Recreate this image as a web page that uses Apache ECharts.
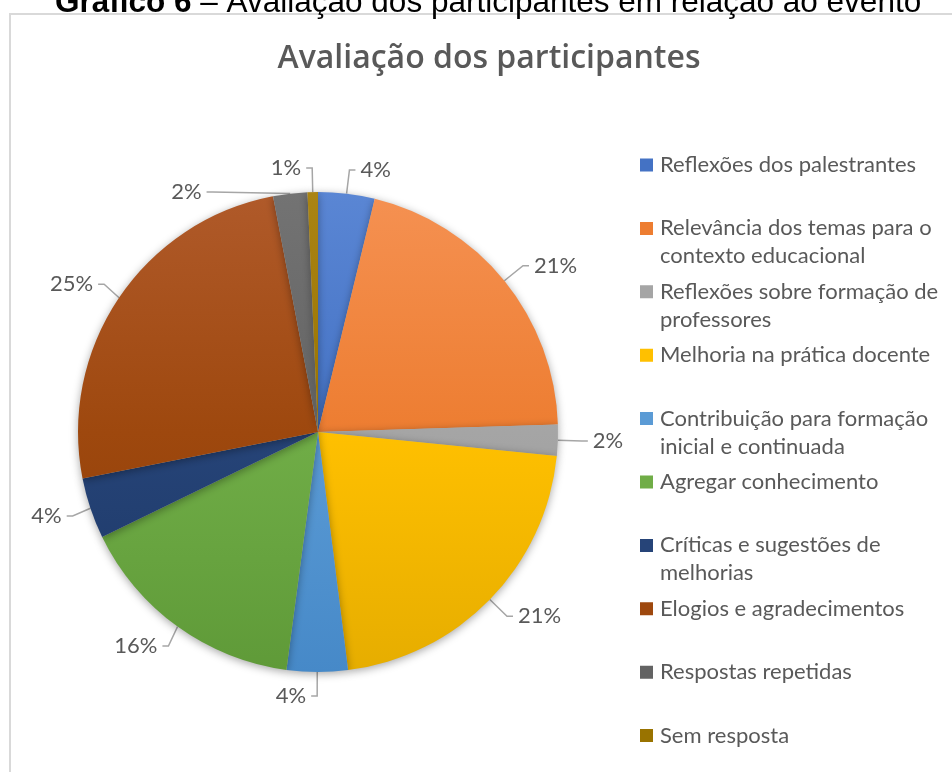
<!DOCTYPE html>
<html>
<head>
<meta charset="utf-8">
<script src="https://cdn.jsdelivr.net/npm/echarts@6/dist/echarts.min.js"></script>
<style>
html,body{margin:0;padding:0;background:#fff}
#chart{width:952px;height:772px}
</style>
</head>
<body>
<div id="chart"></div>
<script>
const categories = ['Reflexões dos palestrantes','Relevância dos temas para o contexto educacional','Reflexões sobre formação de professores','Melhoria na prática docente','Contribuição para formação inicial e continuada','Agregar conhecimento','Críticas e sugestões de melhorias','Elogios e agradecimentos','Respostas repetidas','Sem resposta'];
const shares = [3.8, 20.7, 2.1, 21.4, 4.1, 15.7, 4.1, 25.1, 2.3, 0.7];
const wrapped = {
  'Relevância dos temas para o contexto educacional':'Relevância dos temas para o\ncontexto educacional',
  'Reflexões sobre formação de professores':'Reflexões sobre formação de\nprofessores',
  'Contribuição para formação inicial e continuada':'Contribuição para formação\ninicial e continuada',
  'Críticas e sugestões de melhorias':'Críticas e sugestões de\nmelhorias'
};

const palette = [
  ['#5a86d4','#4472c4','#3a63ad'],
  ['#f59152','#ed7d31','#dd6a1c'],
  ['#b8b8b8','#a5a5a5','#959595'],
  ['#ffcb3a','#ffc000','#e6ad00'],
  ['#6eaae0','#5b9bd5','#4689c8'],
  ['#7fbb55','#70ad47','#5f9a38'],
  ['#34548b','#264478','#1c3765'],
  ['#b05a2a','#9e480e','#8b3c06'],
  ['#737373','#636363','#555555'],
  ['#aa8414','#997300','#856300']
];
const pieTop = 192, pieBottom = 672;
const grad = c => new echarts.graphic.LinearGradient(0, pieTop, 0, pieBottom,
  [{offset:0,color:c[0]},{offset:0.5,color:c[1]},{offset:1,color:c[2]}], true);

// legend icon: 13x56 box, square next to the first text line
const legendIcon = 'path://M0,0L0.01,0M0,56L0.01,56M0,7.5H13V20.5H0Z';

const chart = echarts.init(document.getElementById('chart'));
const txt = '#595959';
chart.setOption({
  backgroundColor:'#fff',
  animation:false,
  title:[
    {text:'{b|Gráfico 6} – Avaliação dos participantes em relação ao evento',left:50,top:-18,
      textStyle:{fontFamily:'Liberation Sans',fontSize:31.5,color:'#000',fontWeight:'normal',
        rich:{b:{fontFamily:'Liberation Sans',fontSize:31.5,fontWeight:'bold',color:'#000'}}}},
    {text:'Avaliação dos participantes',left:484,textAlign:'center',top:38,
      textStyle:{fontFamily:'Open Sans',fontSize:32,fontWeight:600,color:txt}}
  ],
  graphic:[{type:'rect',shape:{x:10,y:14,width:1000,height:800},style:{fill:'none',stroke:'#d9d9d9',lineWidth:2},silent:true}],
  legend:{
    orient:'vertical',left:635,top:146,height:700,itemWidth:13,itemHeight:56,itemGap:7.4,
    data:categories.map((c,i)=>({name:c,icon:legendIcon,itemStyle:{color:palette[i][1]}})),
    formatter:n=>(wrapped[n]||n+'\n '),
    textStyle:{fontFamily:'Lato',fontSize:22,color:txt,lineHeight:28,padding:[0,0,0,2]}
  },
  series:[{
    type:'pie',center:[318,432],radius:240,startAngle:90,clockwise:true,
    label:{show:true,position:'outside',formatter:p=>Math.round(p.value)+'%',
      fontFamily:'Lato',fontSize:22,color:txt},
    labelLine:{show:true,length:24,length2:6,lineStyle:{color:'#a6a6a6',width:1.5}},
    itemStyle:{shadowBlur:8,shadowColor:'rgba(0,0,0,0.35)',shadowOffsetY:2},
    emphasis:{disabled:true},
    data:categories.map((c,i)=>({name:c,value:shares[i],itemStyle:{color:grad(palette[i])}}))
  }]
});
</script>
</body>
</html>
